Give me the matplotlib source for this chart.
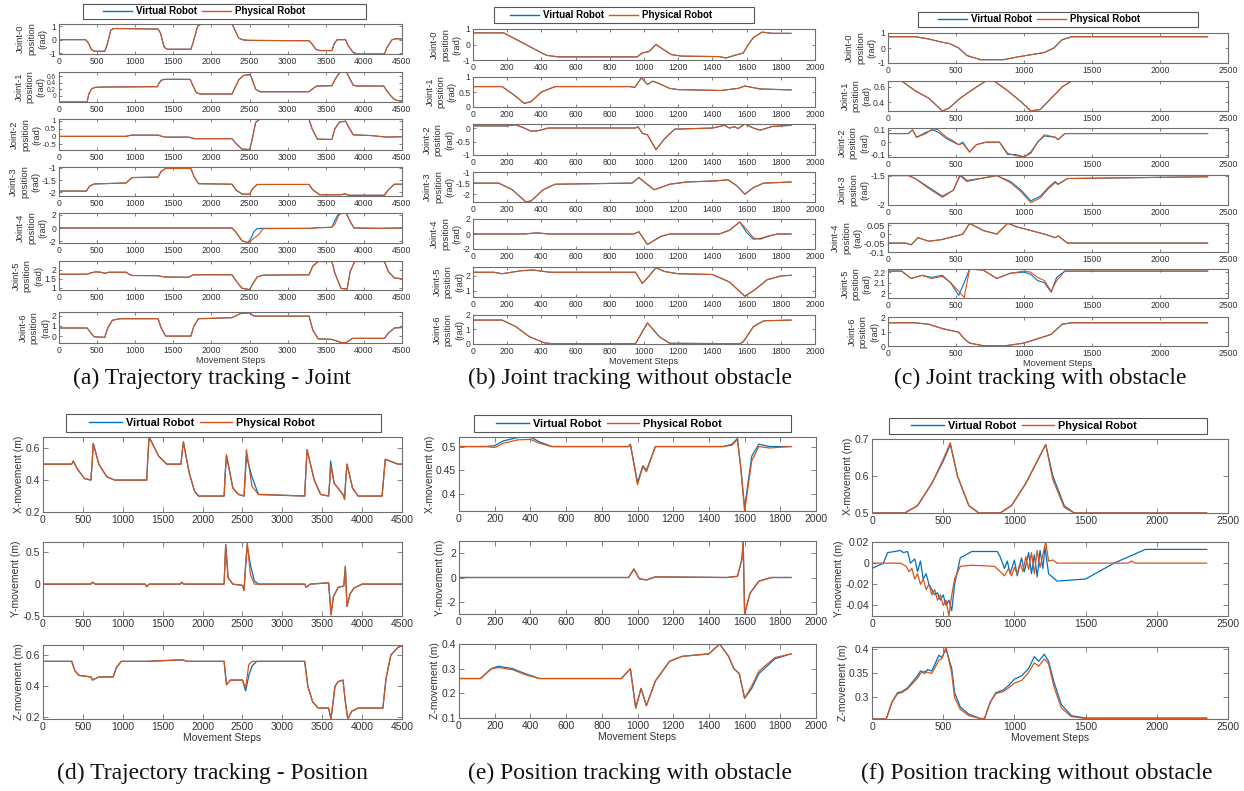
import numpy as np
import matplotlib.pyplot as plt
from matplotlib.lines import Line2D
from matplotlib.patches import Rectangle
from matplotlib.ticker import FuncFormatter

plt.rcParams['font.family'] = ['Liberation Sans', 'DejaVu Sans']
plt.rcParams['axes.unicode_minus'] = False

W, H = 1244, 791
BLUE = '#0072BD'
ORANGE = '#D95319'
FRAME = '#6e6e6e'
TEXT = '#333333'

# ---------------- (a) Trajectory tracking - Joint ----------------
a_j0_t = [0, 350, 380, 430, 470, 600, 630, 680, 720, 1300, 1330, 1380, 1420, 1730, 1760, 1820, 1870, 2270, 2300, 2360,
          2420, 2500, 3280, 3310, 3370, 3420, 3580, 3610, 3650, 3760, 3790, 3860, 3920, 4270, 4300, 4370, 4420, 4500]
a_j0 = [0, 0, -0.2, -0.75, -0.85, -0.85, -0.4, 0.7, 0.82, 0.78, 0.5, -0.55, -0.7, -0.7, -0.2, 1.0, 1.15, 1.15, 0.8, 0.1,
        -0.02, -0.05, -0.08, -0.25, -0.7, -0.8, -0.8, -0.3, 0, 0, -0.4, -0.95, -1.05, -1.05, -0.6, 0.0, 0.07, 0.05]
a_j1_t = [0, 370, 390, 430, 480, 600, 1290, 1310, 1340, 1380, 1720, 1750, 1800, 1850, 2270, 2300, 2360, 2420, 2500, 2520,
          2580, 2640, 3280, 3320, 3380, 3580, 3620, 3680, 3720, 3770, 3800, 3860, 3900, 4260, 4300, 4380, 4430, 4500]
a_j1 = [-0.2, -0.2, 0.05, 0.22, 0.26, 0.27, 0.28, 0.38, 0.48, 0.51, 0.51, 0.35, 0.1, 0.05, 0.05, 0.2, 0.5, 0.63, 0.66, 0.6,
        0.2, 0.12, 0.12, 0.2, 0.3, 0.31, 0.5, 0.72, 0.74, 0.74, 0.6, 0.33, 0.3, 0.3, 0.15, -0.08, -0.15, -0.17]
a_j2_t = [0, 880, 950, 1300, 1350, 1400, 1700, 1780, 2270, 2320, 2400, 2500, 2530, 2580, 2630, 3280, 3320, 3390, 3580,
          3620, 3680, 3760, 3800, 3860, 4100, 4300, 4500]
a_j2 = [0, 0, 0.08, 0.08, 0.0, -0.05, -0.05, -0.15, -0.15, -0.45, -0.82, -0.85, -0.3, 0.9, 1.1, 1.1, 0.5, -0.18, -0.2,
        0.5, 0.92, 0.98, 0.6, 0.1, 0.05, -0.05, -0.02]
a_j3_t = [0, 360, 400, 460, 880, 920, 960, 1300, 1340, 1400, 1730, 1770, 1830, 2270, 2320, 2400, 2500, 2540, 2600, 3280,
          3330, 3420, 3700, 3750, 3800, 4270, 4320, 4400, 4500]
a_j3 = [-1.95, -1.95, -1.75, -1.66, -1.62, -1.5, -1.4, -1.38, -1.15, -1.03, -1.03, -1.35, -1.65, -1.67, -1.9, -2.07,
        -2.08, -1.85, -1.68, -1.68, -1.9, -2.1, -2.1, -2.06, -2.12, -2.12, -1.9, -1.67, -1.67]
a_j4_t = [0, 2270, 2320, 2400, 2480, 2520, 2560, 2600, 2650, 3300, 3400, 3580, 3610, 3660, 3700, 3770, 3810, 3870, 4200, 4500]
a_j4 = [0, 0, -0.6, -1.9, -2.2, -1.5, -0.5, -0.1, -0.05, -0.05, 0.05, 0.1, 0.9, 2.0, 2.2, 2.2, 1.2, 0.0, -0.05, 0.0]
a_j4p_t = [0, 2270, 2320, 2400, 2480, 2520, 2560, 2620, 2680, 3300, 3400, 3580, 3620, 3670, 3710, 3770, 3810, 3870, 4200, 4500]
a_j4p = [0, 0, -0.6, -1.9, -2.2, -1.9, -1.5, -1.0, -0.1, -0.05, 0.05, 0.1, 0.6, 1.9, 2.2, 2.2, 1.2, 0.0, -0.05, 0.0]
a_j5_t = [0, 370, 420, 480, 550, 600, 650, 880, 920, 960, 1300, 1350, 1400, 1700, 1740, 1780, 2270, 2320, 2400, 2500,
          2540, 2600, 2680, 3280, 3330, 3400, 3580, 3620, 3700, 3780, 3820, 3880, 4270, 4320, 4400, 4500]
a_j5 = [1.75, 1.75, 1.83, 1.88, 1.86, 1.8, 1.86, 1.86, 1.75, 1.68, 1.67, 1.62, 1.6, 1.58, 1.68, 1.72, 1.72, 1.4, 0.98,
        0.9, 1.2, 1.6, 1.7, 1.72, 2.2, 2.45, 2.45, 1.8, 0.97, 0.93, 1.9, 2.45, 2.45, 1.9, 1.55, 1.5]
a_j6_t = [0, 370, 420, 460, 600, 640, 700, 800, 1300, 1340, 1400, 1730, 1770, 1830, 2270, 2380, 2500, 2560, 3280, 3330,
          3400, 3580, 3700, 3770, 3850, 4270, 4320, 4400, 4500]
a_j6 = [0.8, 0.8, 0.3, -0.05, -0.1, 0.8, 1.55, 1.7, 1.7, 0.8, 0.02, 0.02, 1.0, 1.7, 1.8, 2.2, 2.25, 1.95, 1.95, 0.6,
        -0.25, -0.3, -0.6, -0.6, -0.2, -0.2, 0.3, 0.8, 0.85]
a_ylims = [(-1.05, 1.15), (-0.2, 0.74), (-0.88, 1.12), (-2.15, -0.97), (-2.25, 2.25), (0.88, 2.48), (-0.65, 2.35)]
a_yticks = [[-1, 0, 1], [0, 0.2, 0.4, 0.6], [-0.5, 0, 0.5, 1], [-2, -1.5, -1], [-2, 0, 2], [1, 1.5, 2], [0, 1, 2]]

# ---------------- (b) Joint tracking without obstacle ----------------
b_j0_t = [0, 180, 240, 300, 360, 430, 500, 960, 990, 1030, 1070, 1110, 1160, 1220, 1440, 1480, 1530, 1580, 1610, 1640,
          1690, 1750, 1860]
b_j0 = [0.75, 0.75, 0.4, 0.05, -0.3, -0.7, -0.8, -0.8, -0.55, -0.45, 0.0, -0.3, -0.65, -0.75, -0.78, -0.87, -0.7, -0.55,
        0.0, 0.45, 0.8, 0.72, 0.72]
b_j1_t = [0, 170, 240, 300, 340, 400, 480, 920, 945, 985, 1020, 1050, 1080, 1150, 1200, 1450, 1550, 1590, 1680, 1860]
b_j1 = [0.68, 0.68, 0.4, 0.12, 0.18, 0.5, 0.68, 0.68, 0.65, 0.97, 0.75, 0.86, 0.8, 0.62, 0.58, 0.55, 0.62, 0.7, 0.6, 0.57]
b_j2_t = [0, 200, 250, 300, 340, 380, 440, 950, 965, 990, 1020, 1070, 1120, 1180, 1400, 1470, 1500, 1530, 1550, 1590,
          1640, 1680, 1750, 1860]
b_j2 = [0.08, 0.08, 0.12, 0.0, -0.12, -0.1, 0.0, 0.0, 0.05, -0.2, -0.25, -0.8, -0.4, -0.04, 0.0, 0.1, 0.0, 0.05, -0.02,
        0.15, 0.0, -0.08, 0.06, 0.1]
b_j3_t = [0, 150, 230, 310, 340, 410, 480, 930, 970, 1010, 1060, 1150, 1250, 1420, 1490, 1540, 1590, 1640, 1700, 1860]
b_j3 = [-1.5, -1.5, -1.8, -2.35, -2.3, -1.8, -1.55, -1.5, -1.25, -1.5, -1.8, -1.55, -1.45, -1.4, -1.35, -1.6, -2.0, -1.7,
        -1.5, -1.45]
b_j4_t = [0, 300, 370, 450, 940, 970, 1020, 1100, 1150, 1440, 1500, 1560, 1600, 1640, 1680, 1730, 1780, 1860]
b_j4 = [0, 0, 0.15, 0, 0, 0.3, -1.4, -0.3, 0, 0, 0.5, 1.6, 0.2, -0.7, -0.6, -0.25, 0, 0]
b_j4p = [0, 0, 0.15, 0, 0, 0.3, -1.4, -0.3, 0, 0, 0.5, 1.6, 0.6, -0.5, -0.7, -0.3, 0, 0]
b_j5_t = [0, 120, 170, 280, 350, 450, 950, 990, 1030, 1070, 1120, 1200, 1400, 1500, 1590, 1650, 1720, 1800, 1860]
b_j5 = [2.25, 2.25, 2.15, 2.35, 2.4, 2.25, 2.25, 1.5, 2.0, 2.55, 2.3, 2.15, 2.1, 1.6, 0.65, 1.1, 1.75, 2.0, 2.05]
b_j6_t = [0, 170, 250, 330, 420, 470, 950, 1020, 1090, 1150, 1560, 1580, 1640, 1700, 1860]
b_j6 = [1.65, 1.65, 1.2, 0.5, 0.07, 0.02, 0.02, 1.45, 0.5, 0.05, 0.02, 0.15, 1.2, 1.6, 1.65]
b_ylims = [(-1, 1), (0, 1), (-1, 0.15), (-2.35, -1), (-2, 2), (0.6, 2.6), (0, 2)]
b_yticks = [[-1, 0, 1], [0, 0.5, 1], [-1, -0.5, 0], [-2, -1.5, -1], [-2, 0, 2], [1, 2], [0, 1, 2]]

# ---------------- (c) Joint tracking with obstacle ----------------
c_j0_t = [0, 200, 300, 400, 450, 520, 580, 680, 850, 950, 1050, 1150, 1220, 1280, 1350, 2350]
c_j0 = [0.75, 0.75, 0.6, 0.38, 0.3, 0.0, -0.5, -0.78, -0.78, -0.6, -0.45, -0.3, 0.0, 0.55, 0.75, 0.75]
c_j1_t = [0, 100, 200, 300, 400, 450, 530, 650, 720, 780, 880, 980, 1050, 1120, 1200, 1280, 1350, 2350]
c_j1 = [0.68, 0.68, 0.55, 0.45, 0.28, 0.32, 0.45, 0.6, 0.68, 0.68, 0.55, 0.4, 0.28, 0.3, 0.45, 0.6, 0.68, 0.68]
c_j2_t = [0, 150, 180, 210, 280, 330, 370, 430, 480, 520, 550, 600, 650, 720, 820, 880, 940, 1000, 1050, 1100,
          1150, 1230, 1250, 1300, 2350]
c_j2 = [0.07, 0.07, 0.1, 0.04, 0.08, 0.1, 0.08, 0.03, 0.0, -0.02, 0.0, -0.08, -0.02, 0.0, 0.0, -0.1, -0.1, -0.12, -0.08,
        0.0, 0.05, 0.04, 0.02, 0.07, 0.07]
c_j2p = [0.07, 0.07, 0.1, 0.04, 0.07, 0.11, 0.1, 0.04, 0.01, -0.02, -0.01, -0.08, -0.02, 0.0, 0.0, -0.09, -0.11, -0.12,
         -0.09, 0.0, 0.06, 0.04, 0.02, 0.07, 0.07]
c_j3_t = [0, 150, 200, 300, 400, 480, 530, 580, 680, 800, 900, 980, 1050, 1120, 1180, 1230, 1250, 1320, 2350]
c_j3 = [-1.5, -1.5, -1.55, -1.7, -1.85, -1.75, -1.5, -1.6, -1.55, -1.5, -1.6, -1.75, -1.93, -1.85, -1.7, -1.6, -1.65,
        -1.55, -1.52]
c_j3p = [-1.5, -1.5, -1.55, -1.72, -1.87, -1.75, -1.48, -1.58, -1.55, -1.5, -1.62, -1.78, -1.96, -1.88, -1.72, -1.62,
         -1.65, -1.55, -1.52]
c_j4_t = [0, 130, 170, 220, 300, 400, 500, 550, 600, 700, 800, 880, 950, 1050, 1150, 1230, 1250, 1320, 2350]
c_j4 = [-0.05, -0.05, -0.06, -0.02, -0.04, -0.03, -0.01, 0.0, 0.06, 0.02, 0.0, 0.06, 0.04, 0.02, 0.0, -0.02, -0.01,
        -0.05, -0.05]
c_j5_t = [0, 100, 170, 250, 320, 400, 460, 520, 560, 600, 700, 800, 900, 1000, 1050, 1100, 1150, 1200, 1240, 1300, 2350]
c_j5 = [2.21, 2.21, 2.14, 2.17, 2.15, 2.17, 2.1, 1.98, 2.1, 2.23, 2.22, 2.14, 2.19, 2.2, 2.18, 2.12, 2.1, 2.01, 2.15,
        2.21, 2.21]
c_j5p = [2.21, 2.21, 2.14, 2.17, 2.14, 2.16, 2.1, 2.02, 1.96, 2.23, 2.22, 2.14, 2.19, 2.21, 2.2, 2.15, 2.12, 2.02, 2.12,
         2.21, 2.21]
c_j6_t = [0, 200, 300, 400, 520, 560, 600, 700, 850, 1000, 1100, 1200, 1280, 1350, 2350]
c_j6 = [1.6, 1.6, 1.5, 1.2, 0.95, 0.5, 0.2, 0.02, 0.0, 0.2, 0.5, 0.8, 1.5, 1.6, 1.6]
c_ylims = [(-1, 1), (0.28, 0.68), (-0.12, 0.115), (-2, -1.49), (-0.1, 0.062), (1.955, 2.23), (0, 2)]
c_yticks = [[-1, 0, 1], [0.4, 0.6], [-0.1, 0, 0.1], [-2, -1.5], [-0.1, -0.05, 0, 0.05], [2, 2.1, 2.2], [0, 1, 2]]

# ---------------- (d) Trajectory tracking - Position ----------------
d_x_t = [0, 360, 380, 430, 520, 600, 615, 630, 700, 800, 900, 1300, 1315, 1330, 1450, 1550, 1730, 1745, 1760, 1830,
         1900, 1950, 2270, 2285, 2300, 2380, 2450, 2520, 2535, 2550, 2620, 2700, 3280, 3295, 3310, 3400, 3480, 3580,
         3595, 3605, 3650, 3760, 3780, 3795, 3810, 3880, 3950, 4250, 4290, 4450, 4500]
d_x = [0.5, 0.5, 0.52, 0.47, 0.41, 0.4, 0.5, 0.63, 0.5, 0.42, 0.4, 0.4, 0.55, 0.67, 0.55, 0.5, 0.5, 0.58, 0.64, 0.45,
       0.33, 0.3, 0.3, 0.45, 0.55, 0.35, 0.31, 0.3, 0.42, 0.55, 0.42, 0.31, 0.3, 0.45, 0.59, 0.4, 0.31, 0.3, 0.4, 0.52,
       0.38, 0.31, 0.28, 0.4, 0.5, 0.35, 0.3, 0.3, 0.53, 0.5, 0.5]
d_xp = [0.5, 0.5, 0.52, 0.47, 0.41, 0.4, 0.5, 0.63, 0.5, 0.42, 0.4, 0.4, 0.55, 0.67, 0.55, 0.5, 0.5, 0.58, 0.64, 0.45,
        0.33, 0.3, 0.3, 0.45, 0.56, 0.35, 0.31, 0.3, 0.45, 0.59, 0.36, 0.31, 0.3, 0.45, 0.59, 0.4, 0.31, 0.3, 0.4, 0.49,
        0.38, 0.31, 0.28, 0.4, 0.5, 0.35, 0.3, 0.3, 0.53, 0.5, 0.5]
d_y_t = [0, 600, 620, 650, 1280, 1300, 1330, 1720, 1740, 1760, 2270, 2290, 2320, 2380, 2500, 2520, 2540, 2560, 2600,
         2650, 2700, 3280, 3300, 3350, 3580, 3600, 3610, 3640, 3700, 3770, 3790, 3810, 3850, 3900, 4000, 4500]
d_y = [0, 0, 0.03, 0, 0, -0.04, 0, 0, 0.03, 0, 0, 0.62, 0.1, 0.0, -0.02, -0.1, 0.3, 0.6, 0.3, 0.05, 0.0, 0.0, -0.05,
       0.0, 0.02, -0.3, -0.48, -0.2, -0.05, -0.03, 0.28, -0.35, -0.15, -0.06, 0.0, 0.0]
d_yp = [0, 0, 0.03, 0, 0, -0.04, 0, 0, 0.03, 0, 0, 0.62, 0.1, 0.0, -0.02, -0.1, 0.3, 0.65, 0.15, 0.0, 0.0, 0.0, -0.05,
        0.0, 0.02, -0.3, -0.48, -0.2, -0.05, -0.03, 0.28, -0.35, -0.15, -0.06, 0.0, 0.0]
d_z_t = [0, 360, 400, 450, 600, 620, 700, 880, 920, 980, 1300, 1750, 1800, 2270, 2300, 2350, 2500, 2540, 2580, 2620,
         2680, 3280, 3320, 3380, 3450, 3580, 3610, 3660, 3700, 3760, 3790, 3820, 3870, 3950, 4260, 4300, 4360, 4450, 4500]
d_z = [0.56, 0.56, 0.5, 0.47, 0.46, 0.44, 0.46, 0.46, 0.52, 0.56, 0.56, 0.57, 0.56, 0.56, 0.41, 0.44, 0.44, 0.37, 0.47,
       0.53, 0.56, 0.56, 0.4, 0.3, 0.26, 0.26, 0.19, 0.4, 0.43, 0.44, 0.3, 0.19, 0.24, 0.26, 0.26, 0.45, 0.6, 0.65, 0.66]
d_zp = [0.56, 0.56, 0.5, 0.47, 0.46, 0.44, 0.46, 0.46, 0.52, 0.56, 0.56, 0.57, 0.56, 0.56, 0.41, 0.44, 0.44, 0.39, 0.54,
        0.56, 0.56, 0.56, 0.4, 0.3, 0.26, 0.26, 0.19, 0.4, 0.43, 0.44, 0.3, 0.19, 0.24, 0.26, 0.26, 0.45, 0.6, 0.65, 0.66]

# ---------------- (e) Position tracking with obstacle ----------------
e_x_t = [0, 150, 200, 250, 330, 400, 450, 520, 950, 960, 1000, 1030, 1050, 1100, 1480, 1530, 1560, 1580, 1600, 1640,
         1680, 1740, 1860]
e_x = [0.5, 0.5, 0.502, 0.512, 0.519, 0.52, 0.51, 0.5, 0.5, 0.505, 0.425, 0.46, 0.45, 0.5, 0.5, 0.505, 0.517, 0.45,
       0.372, 0.48, 0.505, 0.5, 0.5]
e_xp = [0.5, 0.5, 0.498, 0.507, 0.514, 0.515, 0.507, 0.5, 0.5, 0.505, 0.42, 0.458, 0.447, 0.5, 0.5, 0.503, 0.515, 0.45,
        0.365, 0.47, 0.5, 0.497, 0.5]
e_y_t = [0, 950, 980, 1010, 1050, 1100, 1500, 1560, 1585, 1592, 1600, 1630, 1680, 1750, 1860]
e_y = [0, 0, 0.7, -0.1, -0.2, 0.05, 0, 0.1, 1.5, 3.0, -3.0, -1.3, -0.3, 0, 0]
e_z_t = [0, 120, 180, 220, 300, 370, 450, 910, 960, 990, 1020, 1050, 1100, 1180, 1250, 1400, 1460, 1510, 1540, 1570,
         1600, 1640, 1680, 1770, 1860]
e_z = [0.26, 0.26, 0.3, 0.31, 0.3, 0.28, 0.26, 0.26, 0.3, 0.14, 0.22, 0.15, 0.25, 0.33, 0.35, 0.36, 0.4, 0.35, 0.3,
       0.28, 0.18, 0.22, 0.28, 0.34, 0.36]
e_zp = [0.26, 0.26, 0.298, 0.305, 0.296, 0.276, 0.26, 0.26, 0.3, 0.14, 0.22, 0.15, 0.25, 0.33, 0.35, 0.36, 0.4, 0.35,
        0.3, 0.28, 0.18, 0.23, 0.29, 0.345, 0.36]

# ---------------- (f) Position tracking without obstacle ----------------
f_x_t = [0, 230, 320, 420, 500, 550, 600, 680, 750, 900, 980, 1080, 1160, 1220, 1270, 1350, 1420, 2350]
f_x = [0.5, 0.5, 0.52, 0.58, 0.64, 0.685, 0.6, 0.52, 0.5, 0.5, 0.52, 0.58, 0.64, 0.685, 0.6, 0.52, 0.5, 0.5]
f_xp = [0.5, 0.5, 0.52, 0.58, 0.645, 0.69, 0.6, 0.52, 0.5, 0.5, 0.52, 0.58, 0.64, 0.685, 0.59, 0.515, 0.5, 0.5]
f_y_t = [0, 80, 110, 160, 200, 220, 250, 270, 300, 320, 340, 360, 380, 400, 420, 440, 460, 480, 500, 520, 540, 560, 580,
         620, 700, 880, 900, 930, 950, 970, 1000, 1020, 1050, 1070, 1100, 1120, 1140, 1160, 1180, 1200, 1215, 1240,
         1300, 1500, 1700, 1920, 2350]
f_y = [-0.005, 0.0, 0.01, 0.011, 0.012, 0.01, 0.011, 0.0, 0.004, -0.008, 0.002, -0.015, -0.01, -0.02, -0.025, -0.03,
       -0.028, -0.035, -0.03, -0.04, -0.035, -0.045, -0.02, 0.005, 0.011, 0.011, 0.006, -0.005, 0.002, -0.01, 0.003,
       -0.012, 0.005, -0.008, 0.01, -0.01, 0.008, -0.013, 0.012, -0.005, 0.015, -0.01, -0.017, -0.015, 0.0, 0.013, 0.013]
f_yp_t = [0, 200, 240, 260, 280, 300, 320, 340, 360, 380, 400, 420, 440, 460, 480, 500, 520, 540, 560, 580, 620, 700,
          860, 900, 930, 960, 980, 1000, 1020, 1040, 1060, 1080, 1100, 1120, 1140, 1160, 1180, 1200, 1220, 1240, 1270,
          1300, 1800, 1820, 1850, 2350]
f_yp = [0.0, 0.0, -0.003, -0.008, -0.005, -0.015, -0.01, -0.02, -0.015, -0.025, -0.02, -0.03, -0.025, -0.035, -0.03,
        -0.04, -0.035, -0.05, -0.03, -0.015, -0.003, -0.002, -0.003, -0.008, -0.012, -0.005, -0.012, -0.004, -0.01,
        0.0, -0.008, 0.006, -0.006, 0.01, -0.01, 0.012, -0.004, 0.008, 0.02, 0.002, 0.003, 0.0, 0.0, 0.002, 0.0, 0.0]
f_z_t = [0, 100, 140, 180, 210, 250, 320, 340, 370, 390, 420, 470, 490, 520, 560, 580, 620, 680, 760, 790, 830, 870,
         920, 960, 1000, 1050, 1100, 1140, 1170, 1210, 1240, 1280, 1330, 1400, 1500, 2350]
f_z = [0.255, 0.255, 0.29, 0.31, 0.312, 0.32, 0.345, 0.355, 0.35, 0.358, 0.355, 0.388, 0.383, 0.4, 0.36, 0.31, 0.28,
       0.265, 0.256, 0.256, 0.29, 0.31, 0.315, 0.325, 0.338, 0.345, 0.36, 0.385, 0.375, 0.39, 0.375, 0.33, 0.285,
       0.262, 0.257, 0.257]
f_zp = [0.255, 0.255, 0.29, 0.308, 0.31, 0.318, 0.34, 0.35, 0.355, 0.352, 0.35, 0.378, 0.38, 0.405, 0.35, 0.3, 0.275,
        0.262, 0.256, 0.256, 0.29, 0.308, 0.312, 0.32, 0.33, 0.335, 0.352, 0.372, 0.365, 0.38, 0.37, 0.32, 0.278,
        0.26, 0.256, 0.256]

pos_labels = ['X-movement (m)', 'Y-movement (m)', 'Z-movement (m)']
d_ylims = [(0.2, 0.67), (-0.5, 0.66), (0.19, 0.665)]
d_yticks = [[0.2, 0.4, 0.6], [-0.5, 0, 0.5], [0.2, 0.4, 0.6]]
e_ylims = [(0.365, 0.52), (-3, 3), (0.1, 0.4)]
e_yticks = [[0.4, 0.45, 0.5], [-2, 0, 2], [0.1, 0.2, 0.3, 0.4]]
f_ylims = [(0.5, 0.7), (-0.05, 0.02), (0.255, 0.405)]
f_yticks = [[0.5, 0.6, 0.7], [-0.04, -0.02, 0, 0.02], [0.3, 0.35, 0.4]]

captions = ['(a) Trajectory tracking - Joint', '(b) Joint tracking without obstacle',
            '(c) Joint tracking with obstacle', '(d) Trajectory tracking - Position',
            '(e) Position tracking with obstacle', '(f) Position tracking without obstacle']

fig = plt.figure(figsize=(W / 100, H / 100), dpi=100)


def add_ax(x0, y0, x1, y1):
    return fig.add_axes([x0 / W, 1 - y1 / H, (x1 - x0) / W, (y1 - y0) / H])


def style(ax, xmax, xstep, ylim, yticks, fs, ticklen):
    ax.set_xlim(0, xmax)
    ax.set_xticks(np.arange(0, xmax + 1, xstep))
    ax.set_ylim(*ylim)
    ax.set_yticks(yticks)
    ax.yaxis.set_major_formatter(FuncFormatter(lambda v, p: f'{v:g}'))
    ax.tick_params(direction='in', top=True, right=True, length=ticklen, width=0.6, labelsize=fs,
                   color=FRAME, labelcolor=TEXT, pad=2)
    # dense y ticks on the short joint axes: keep the labels from running into each other
    h_px = ax.get_position().height * H
    gap = h_px * (yticks[1] - yticks[0]) / (ylim[1] - ylim[0])
    if gap < 1.4 * fs * 100 / 72 * 0.75:
        ax.tick_params(axis='y', labelsize=max(4.5, gap / 1.35))
    for s in ax.spines.values():
        s.set_color(FRAME)
        s.set_linewidth(0.8)


def legend_box(x0, y0, x1, y1, hx, fs):
    fig.add_artist(Rectangle((x0 / W, 1 - y1 / H), (x1 - x0) / W, (y1 - y0) / H, transform=fig.transFigure,
                             fill=False, edgecolor='#555555', linewidth=0.8))
    handles = [Line2D([], [], color=BLUE, lw=1), Line2D([], [], color=ORANGE, lw=1)]
    fig.legend(handles, ['Virtual Robot', 'Physical Robot'], loc='center left',
               bbox_to_anchor=(hx / W, 1 - (y0 + y1) / 2 / H), ncol=2, frameon=False,
               prop={'weight': 'bold', 'size': fs}, handlelength=3, handletextpad=0.4,
               columnspacing=0.5, borderpad=0, borderaxespad=0)


def joint_panel(x0, x1, rows, virt, phys, ylims, yticks, xmax, xstep):
    for i, (top, bot) in enumerate(rows):
        ax = add_ax(x0, top, x1, bot)
        ax.plot(virt[i][0], virt[i][1], color=BLUE, lw=0.8)
        ax.plot(phys[i][0], phys[i][1], color=ORANGE, lw=0.8)
        style(ax, xmax, xstep, ylims[i], yticks[i], 6.2, 2.5)
        ax.set_ylabel(f'Joint-{i}\nposition\n(rad)', fontsize=6.8, color=TEXT, labelpad=1, linespacing=1.3)
    ax.set_xlabel('Movement Steps', fontsize=6.6, color=TEXT, labelpad=1)


def pos_panel(x0, x1, rows, virt, phys, ylims, yticks, xmax, xstep):
    for i, (top, bot) in enumerate(rows):
        ax = add_ax(x0, top, x1, bot)
        ax.plot(virt[i][0], virt[i][1], color=BLUE, lw=0.9)
        ax.plot(phys[i][0], phys[i][1], color=ORANGE, lw=0.9)
        style(ax, xmax, xstep, ylims[i], yticks[i], 7.5, 3.5)
        ax.set_ylabel(pos_labels[i], fontsize=7.5, color=TEXT, labelpad=1)
    ax.set_xlabel('Movement Steps', fontsize=7.5, color=TEXT, labelpad=1)


a_v = [(a_j0_t, a_j0), (a_j1_t, a_j1), (a_j2_t, a_j2), (a_j3_t, a_j3), (a_j4_t, a_j4), (a_j5_t, a_j5), (a_j6_t, a_j6)]
a_p = a_v[:4] + [(a_j4p_t, a_j4p)] + a_v[5:]
b_v = [(b_j0_t, b_j0), (b_j1_t, b_j1), (b_j2_t, b_j2), (b_j3_t, b_j3), (b_j4_t, b_j4), (b_j5_t, b_j5), (b_j6_t, b_j6)]
b_p = b_v[:4] + [(b_j4_t, b_j4p)] + b_v[5:]
c_v = [(c_j0_t, c_j0), (c_j1_t, c_j1), (c_j2_t, c_j2), (c_j3_t, c_j3), (c_j4_t, c_j4), (c_j5_t, c_j5), (c_j6_t, c_j6)]
c_p = [c_v[0], c_v[1], (c_j2_t, c_j2p), (c_j3_t, c_j3p), c_v[4], (c_j5_t, c_j5p), c_v[6]]

joint_panel(59, 402, [(24, 54), (72, 102), (119, 150), (167, 196), (213, 243), (261, 290), (312, 343)],
            a_v, a_p, a_ylims, a_yticks, 4500, 500)
joint_panel(473, 815, [(29, 60), (77, 107), (124, 155), (172, 202), (219, 249), (267, 297), (315, 344)],
            b_v, b_p, b_ylims, b_yticks, 2000, 200)
joint_panel(888, 1228, [(33, 63), (81, 111), (128, 157), (175, 205), (223, 252), (269, 298), (317, 346)],
            c_v, c_p, c_ylims, c_yticks, 2500, 500)

pos_panel(43, 402, [(437, 512), (542, 616), (645, 719)],
          [(d_x_t, d_x), (d_y_t, d_y), (d_z_t, d_z)], [(d_x_t, d_xp), (d_y_t, d_yp), (d_z_t, d_zp)],
          d_ylims, d_yticks, 4500, 500)
pos_panel(459, 816, [(437, 511), (541, 614), (644, 718)],
          [(e_x_t, e_x), (e_y_t, e_y), (e_z_t, e_z)], [(e_x_t, e_xp), (e_y_t, e_y), (e_z_t, e_zp)],
          e_ylims, e_yticks, 2000, 200)
pos_panel(872, 1228, [(439, 513), (542, 616), (647, 719)],
          [(f_x_t, f_x), (f_y_t, f_y), (f_z_t, f_z)], [(f_x_t, f_xp), (f_yp_t, f_yp), (f_z_t, f_zp)],
          f_ylims, f_yticks, 2500, 500)

legend_box(83, 4, 366, 19, 103, 7)
legend_box(494, 7, 754, 23, 510, 7)
legend_box(918, 12, 1198, 27, 938, 7)
legend_box(66, 414, 381, 432, 89, 7.8)
legend_box(474, 415, 791, 432, 496, 7.8)
legend_box(889, 418, 1207, 434, 911, 7.8)

for cap, cx, cy in zip(captions, [212, 630, 1040, 212, 630, 1037], [378, 378, 378, 773, 773, 773]):
    fig.text(cx / W, 1 - cy / H, cap, ha='center', va='center', fontsize=17,
             family=['Liberation Serif', 'DejaVu Serif'], color='#111111')

fig.savefig('out.png', dpi=100)
